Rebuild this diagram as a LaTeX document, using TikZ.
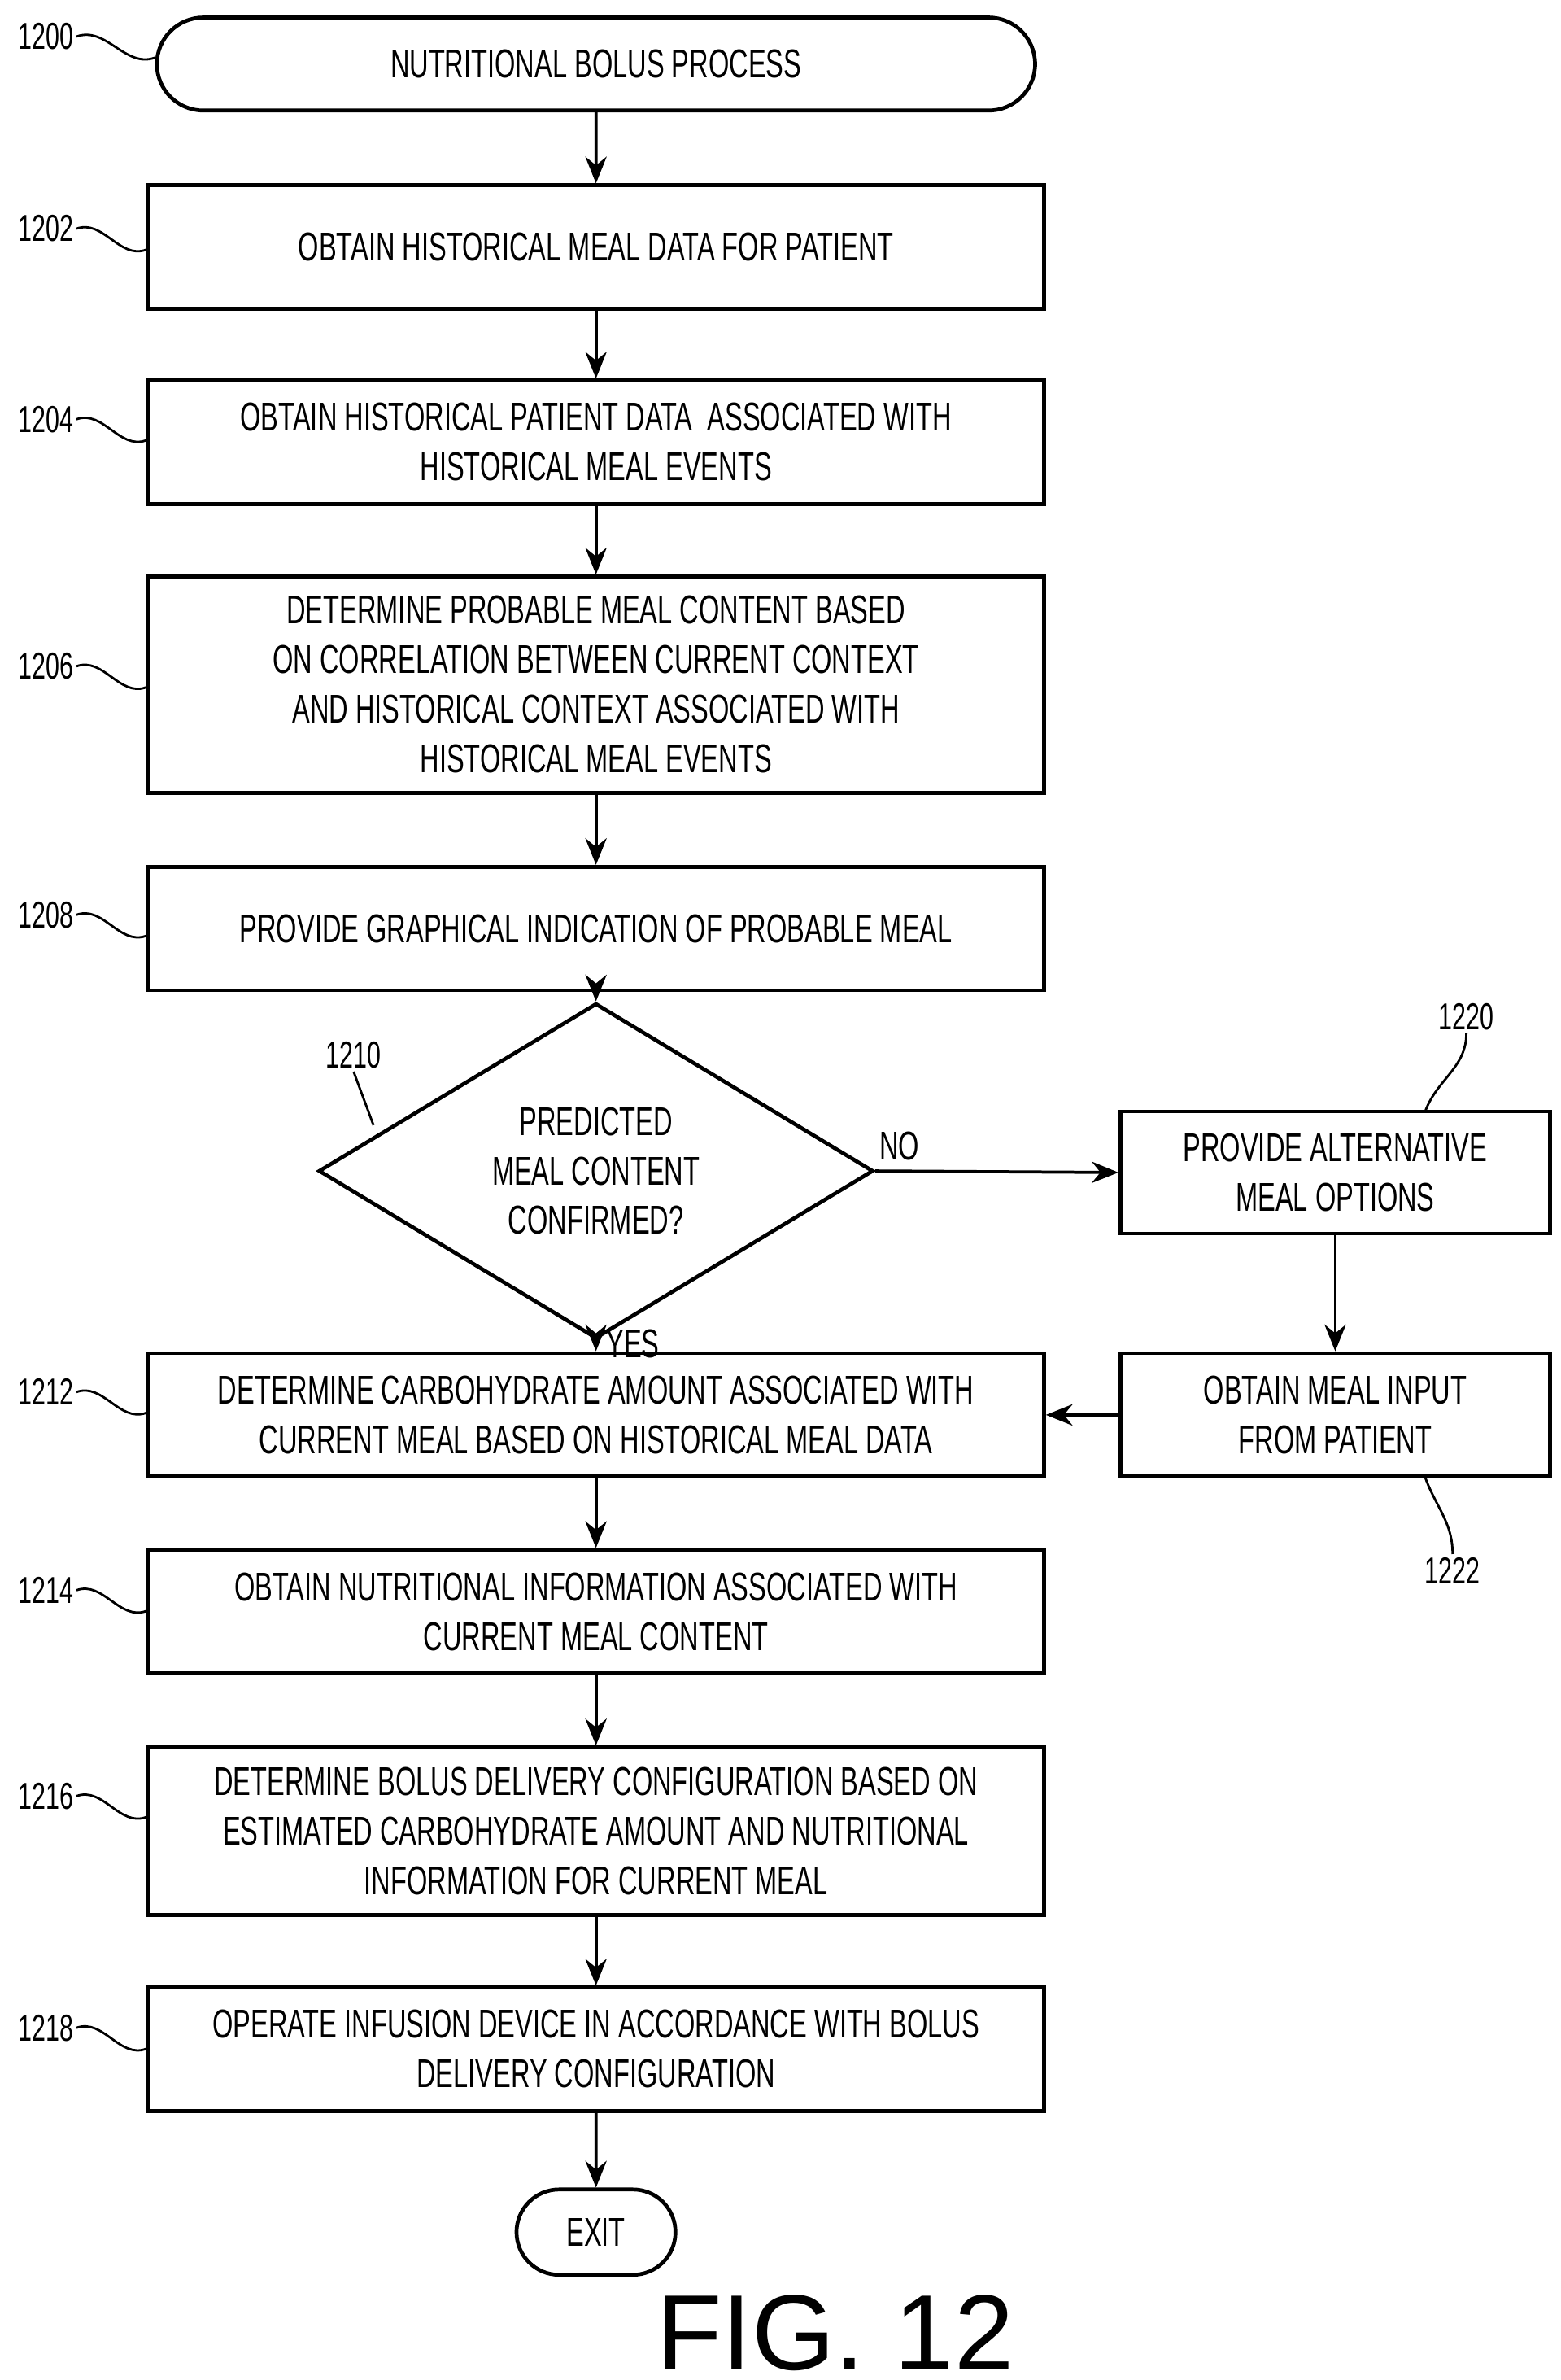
\documentclass[tikz,border=0pt]{standalone}
\usepackage{fontspec}
\setmainfont{Liberation Sans}[FakeStretch=0.66]
\newfontfamily\figfont{Liberation Sans}
\usetikzlibrary{arrows.meta}
\usetikzlibrary{shapes.geometric,shapes.misc}
\tikzset{
    procbox/.style={draw=black, line width=0.5mm, minimum width=11.76cm, minimum height=1.62cm, align=center, inner sep=0pt, font=\fontsize{15}{18.5}\selectfont},
    term/.style={draw=black, line width=0.5mm, rounded rectangle, align=center, font=\fontsize{15}{18}\selectfont},
    ref/.style={font=\fontsize{14}{16}\selectfont, inner sep=1pt},
    flow/.style={line width=0.4mm, -{Stealth[length=3.5mm, width=2.8mm]}},
    leader/.style={line width=0.3mm}
}
\begin{document}
\begin{tikzpicture}[x=0.02cm, y=-0.02cm]
    \useasboundingbox (0,0) rectangle (1024,1561);
    % process steps
    \node [term, minimum width=11.76cm, minimum height=1.22cm] (start) at (391,42) {NUTRITIONAL BOLUS PROCESS};
    \node [procbox] (s1202) at (391,162) {OBTAIN HISTORICAL MEAL DATA FOR PATIENT};
    \node [procbox] (s1204) at (391,290) {OBTAIN HISTORICAL PATIENT DATA\ \ ASSOCIATED WITH\\HISTORICAL MEAL EVENTS};
    \node [procbox, minimum height=2.84cm] (s1206) at (391,449) {DETERMINE PROBABLE MEAL CONTENT BASED\\ON CORRELATION BETWEEN CURRENT CONTEXT\\AND HISTORICAL CONTEXT ASSOCIATED WITH\\HISTORICAL MEAL EVENTS};
    \node [procbox] (s1208) at (391,609) {PROVIDE GRAPHICAL INDICATION OF PROBABLE MEAL};
    \node [draw=black, line width=0.5mm, diamond, minimum width=7.28cm, minimum height=2.86cm, inner sep=0pt, align=center, font=\fontsize{15}{18.5}\selectfont] (d1210) at (391,768) {PREDICTED\\MEAL CONTENT\\CONFIRMED?};
    \node [procbox, minimum width=5.64cm, minimum height=1.6cm] (s1220) at (876,769) {PROVIDE ALTERNATIVE\\MEAL OPTIONS};
    \node [procbox, minimum width=5.64cm] (s1222) at (876,928) {OBTAIN MEAL INPUT\\FROM PATIENT};
    \node [procbox] (s1212) at (391,928) {DETERMINE CARBOHYDRATE AMOUNT ASSOCIATED WITH\\CURRENT MEAL BASED ON HISTORICAL MEAL DATA};
    \node [procbox] (s1214) at (391,1057) {OBTAIN NUTRITIONAL INFORMATION ASSOCIATED WITH\\CURRENT MEAL CONTENT};
    \node [procbox, minimum height=2.2cm] (s1216) at (391,1201) {DETERMINE BOLUS DELIVERY CONFIGURATION BASED ON\\ESTIMATED CARBOHYDRATE AMOUNT AND NUTRITIONAL\\INFORMATION FOR CURRENT MEAL};
    \node [procbox] (s1218) at (391,1344) {OPERATE INFUSION DEVICE IN ACCORDANCE WITH BOLUS\\DELIVERY CONFIGURATION};
    \node [term, minimum width=2.32cm, minimum height=1.12cm] (exit) at (391,1464) {EXIT};
    \node [font=\figfont\fontsize{40}{44}\selectfont] (fig) at (548,1530) {FIG. 12};
    % connectors
    \draw [flow] (start) -- (s1202);
    \draw [flow] (s1202) -- (s1204);
    \draw [flow] (s1204) -- (s1206);
    \draw [flow] (s1206) -- (s1208);
    \draw [flow] (s1208) -- (d1210);
    \draw [flow] (d1210.east) -- node[above, pos=0.1, font=\fontsize{15}{18}\selectfont] {NO} (s1220.west);
    \draw [flow] (d1210.south) -- node[right, pos=0.3, font=\fontsize{15}{18}\selectfont] {YES} (s1212.north);
    \draw [flow] (s1220) -- (s1222);
    \draw [flow] (s1222) -- (s1212);
    \draw [flow] (s1212) -- (s1214);
    \draw [flow] (s1214) -- (s1216);
    \draw [flow] (s1216) -- (s1218);
    \draw [flow] (s1218) -- (exit);
    % reference numerals
    \node [ref] (l1200) at (30,24) {1200};
    \node [ref] (l1202) at (30,150) {1202};
    \node [ref] (l1204) at (30,275) {1204};
    \node [ref] (l1206) at (30,437) {1206};
    \node [ref] (l1208) at (30,600) {1208};
    \node [ref] (l1212) at (30,913) {1212};
    \node [ref] (l1214) at (30,1043) {1214};
    \node [ref] (l1216) at (30,1178) {1216};
    \node [ref] (l1218) at (30,1330) {1218};
    \node [ref] (l1210) at (232,692) {1210};
    \node [ref] (l1220) at (962,667) {1220};
    \node [ref] (l1222) at (953,1030) {1222};
    \foreach \n/\b in {1200/start, 1202/s1202, 1204/s1204, 1206/s1206, 1208/s1208, 1212/s1212, 1214/s1214, 1216/s1216, 1218/s1218}
        \draw [leader] (l\n.east) to[out=20,in=200] ([yshift=-0.06cm]\b.west |- l\n.south east);
    \draw [leader] (l1210.south) to[out=-70,in=110] (245,738);
    \draw [leader] (l1220.south) to[out=-90,in=70] (935,729);
    \draw [leader] (l1222.north) to[out=90,in=-70] (935,969);
\end{tikzpicture}
\end{document}
